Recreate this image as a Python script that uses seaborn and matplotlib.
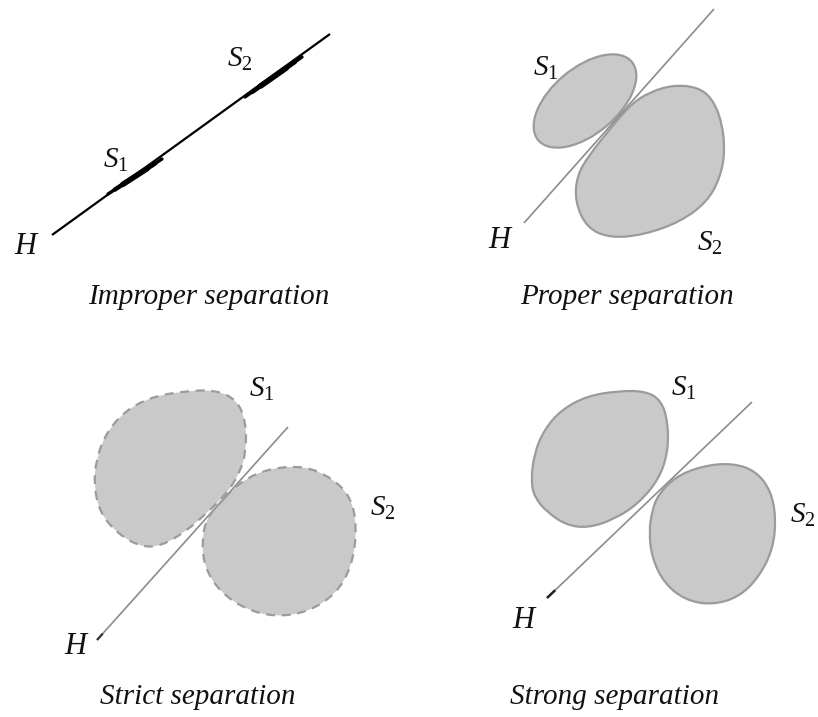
import numpy as np
import pandas as pd
import matplotlib
matplotlib.use("Agg")
import matplotlib.pyplot as plt
from matplotlib.path import Path
from matplotlib.patches import PathPatch, Ellipse
import seaborn as sns

# ---------------- data (image pixel coordinates, y downwards) ----------------
titles = ["Improper separation", "Proper separation", "Strict separation", "Strong separation"]
title_x = [209, 627, 198, 615]
title_y = [297, 297, 697, 697]

# hyperplane H in each panel: (x0, y0, x1, y1)
h_lines = [
    [52, 235, 330, 34],
    [524, 223, 714, 9],
    [97, 640, 288, 427],
    [547, 598, 752, 402],
]

# panel 1: the sets lie on the line (thick segments)
seg1_x = [108, 162]
seg1_y = [194, 159]
seg2_x = [245, 302]
seg2_y = [97, 57]

# panel 2 blobs: S1 is an ellipse (centre, full width, full height, tilt in degrees)
p2_s1_ellipse = [585, 101, 122, 66, -40]
p2_s2_x = [631, 650, 673, 697, 712, 722, 725, 720, 707, 680, 643, 610, 587, 575, 577, 590, 610]
p2_s2_y = [104, 92, 85, 87, 98, 122, 152, 178, 202, 222, 235, 238, 228, 202, 175, 154, 129]

# panel 3 blobs (dashed outline)
p3_s1_x = [94, 96, 106, 125, 151, 185, 216, 237, 246, 246, 240, 228, 208, 185, 161, 141, 118, 100]
p3_s1_y = [486, 460, 433, 411, 397, 391, 390, 400, 422, 452, 472, 492, 512, 532, 546, 547, 534, 513]
p3_s2_x = [230, 245, 271, 305, 332, 351, 357, 352, 336, 308, 275, 245, 219, 204, 202, 207, 219]
p3_s2_y = [492, 479, 468, 466, 478, 497, 528, 566, 594, 612, 617, 609, 591, 566, 538, 518, 504]

# panel 4 blobs
p4_s1_x = [531, 534, 544, 561, 587, 618, 645, 661, 668, 668, 659, 639, 615, 588, 566, 547, 535]
p4_s1_y = [482, 454, 430, 410, 396, 391, 391, 400, 422, 452, 479, 503, 519, 528, 525, 512, 498]
p4_s2_x = [658, 675, 702, 732, 756, 771, 776, 773, 759, 739, 712, 685, 664, 652, 649, 652]
p4_s2_y = [495, 477, 466, 463, 471, 491, 518, 549, 577, 597, 605, 600, 583, 558, 532, 511]

# labels: (text, x, y)
labels = [
    (r"$S_1$", 116, 160), (r"$S_2$", 240, 59), (r"$H$", 27, 246),
    (r"$S_1$", 546, 68), (r"$S_2$", 710, 243), (r"$H$", 501, 240),
    (r"$S_1$", 262, 389), (r"$S_2$", 383, 508), (r"$H$", 77, 647),
    (r"$S_1$", 684, 388), (r"$S_2$", 803, 515), (r"$H$", 525, 621),
]

# ---------------- style ----------------
sns.set_theme(style="white")
plt.rcParams["font.family"] = ["Liberation Serif", "DejaVu Serif"]
plt.rcParams["mathtext.fontset"] = "custom"
plt.rcParams["mathtext.it"] = "Liberation Serif:italic"
plt.rcParams["mathtext.rm"] = "Liberation Serif"
plt.rcParams["mathtext.cal"] = "Liberation Serif:italic"

FILL = "#c9c9c9"
EDGE = "#9b9b9b"
GREY_LINE = "#8c8c8c"

fig = plt.figure(figsize=(8.18, 7.17), dpi=100)
ax = fig.add_axes([0, 0, 1, 1])
ax.set_xlim(0, 818)
ax.set_ylim(717, 0)
ax.set_axis_off()


def smooth_closed(xs, ys):
    """Closed smooth outline (quadratic B-spline) with the given control points."""
    pts = np.column_stack([xs, ys]).astype(float)
    n = len(pts)
    mids = [(pts[i] + pts[(i + 1) % n]) / 2.0 for i in range(n)]
    verts = [mids[-1]]
    codes = [Path.MOVETO]
    for i in range(n):
        verts += [pts[i], mids[i]]
        codes += [Path.CURVE3, Path.CURVE3]
    verts.append(mids[-1])
    codes.append(Path.CLOSEPOLY)
    return Path(verts, codes)


def add_shape(path, dashed=False):
    ax.add_patch(PathPatch(path, facecolor=FILL, edgecolor="none", zorder=1))
    ls = (0, (4, 3)) if dashed else "-"
    ax.add_patch(PathPatch(path, facecolor="none", edgecolor=EDGE,
                           linewidth=1.6, linestyle=ls, zorder=3))


def blob(xs, ys, dashed=False):
    add_shape(smooth_closed(xs, ys), dashed)


def seg(x0, y0, x1, y1, color, lw, z=2, cap="butt"):
    df = pd.DataFrame({"x": [x0, x1], "y": [y0, y1]})
    sns.lineplot(data=df, x="x", y="y", ax=ax, color=color, linewidth=lw,
                 sort=False, estimator=None, zorder=z, solid_capstyle=cap)


# panel 1: line + tapered thick segments
seg(*h_lines[0], "black", 1.6)
for sx, sy in [(seg1_x, seg1_y), (seg2_x, seg2_y)]:
    mx, my = (sx[0] + sx[1]) / 2, (sy[0] + sy[1]) / 2
    for frac, lw in [(1.0, 2.4), (0.75, 3.2), (0.45, 4.0)]:
        seg(mx + (sx[0] - mx) * frac, my + (sy[0] - my) * frac,
            mx + (sx[1] - mx) * frac, my + (sy[1] - my) * frac,
            "black", lw, z=3, cap="round")

# panel 2
cx, cy, w, h, ang = p2_s1_ellipse
ell = Ellipse((cx, cy), w, h, angle=ang, facecolor=FILL, edgecolor=EDGE, linewidth=1.6, zorder=1)
ax.add_patch(ell)
blob(p2_s2_x, p2_s2_y)
seg(*h_lines[1], GREY_LINE, 1.2)

# panel 3
blob(p3_s1_x, p3_s1_y, dashed=True)
blob(p3_s2_x, p3_s2_y, dashed=True)
seg(*h_lines[2], GREY_LINE, 1.2)
x0, y0, x1, y1 = h_lines[2]
seg(x0, y0, x0 + (x1 - x0) * 0.03, y0 + (y1 - y0) * 0.03, "#333333", 1.6, z=4)

# panel 4
blob(p4_s1_x, p4_s1_y)
blob(p4_s2_x, p4_s2_y)
seg(*h_lines[3], GREY_LINE, 1.2)
x0, y0, x1, y1 = h_lines[3]
seg(x0, y0, x0 + (x1 - x0) * 0.04, y0 + (y1 - y0) * 0.04, "#222222", 1.8, z=4)

for txt, x, y in labels:
    size = 22 if "H" in txt else 21
    ax.text(x, y, txt, ha="center", va="center", fontsize=size, color="#111111", zorder=5)

for t, x, y in zip(titles, title_x, title_y):
    ax.text(x, y, t, ha="center", va="center", fontsize=21, style="italic",
            color="#111111", zorder=5)

ax.set_xlabel("")
ax.set_ylabel("")
fig.savefig("out.png", dpi=100)
